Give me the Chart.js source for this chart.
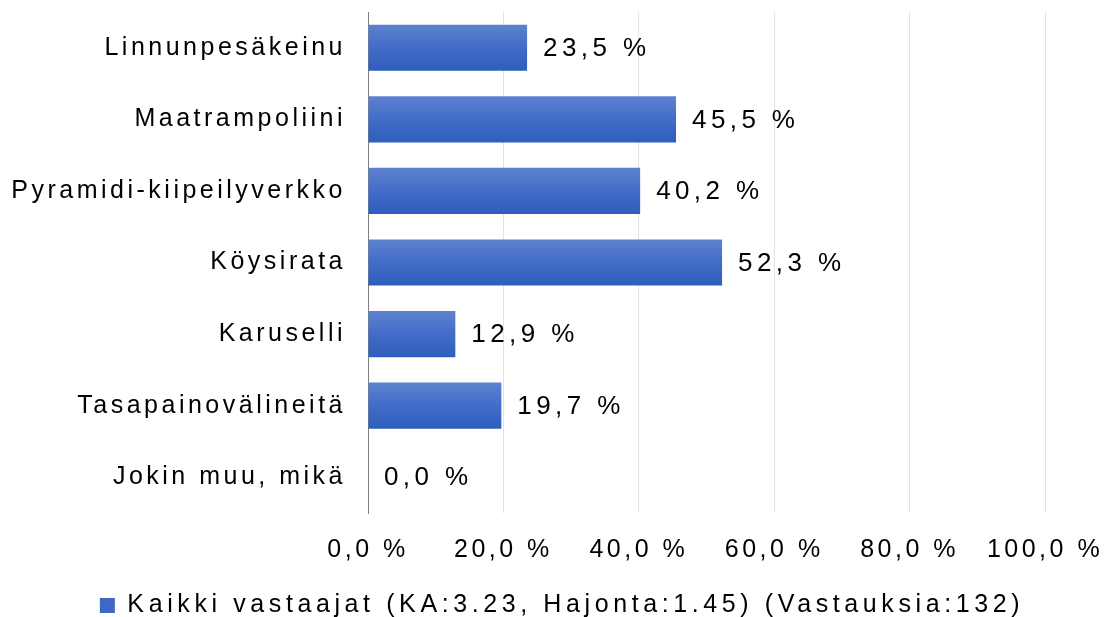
<!DOCTYPE html>
<html>
<head>
<meta charset="utf-8">
<script src="https://cdn.jsdelivr.net/npm/chart.js@4"></script>
<style>
  html, body { margin: 0; padding: 0; background: #fff; }
  #wrap { width: 1112px; height: 617px; }
</style>
</head>
<body>
<div id="wrap"><canvas id="chart"></canvas></div>
<script>
const categories = [
    'Linnunpesäkeinu',
    'Maatrampoliini',
    'Pyramidi-kiipeilyverkko',
    'Köysirata',
    'Karuselli',
    'Tasapainovälineitä',
    'Jokin muu, mikä'
];
const values = [23.5, 45.5, 40.2, 52.3, 12.9, 19.7, 0.0];
const seriesLabel = 'Kaikki vastaajat (KA:3.23, Hajonta:1.45) (Vastauksia:132)';
const xTicks = [0, 20, 40, 60, 80, 100];

const barThickness = 0.645;
const fontFamily = '"Liberation Sans", Arial, sans-serif';
const fontSize = 25;
const axisGap = '3.5px';
const valueGap = '4.4px';
const legendGap = '4.6px';

function fmt(v) {
    return v.toFixed(1).replace('.', ',') + ' %';
}

// run fn with a given canvas letter spacing
function withGap(ctx, gap, fn) {
    const old = ctx.letterSpacing;
    ctx.letterSpacing = gap;
    const r = fn();
    ctx.letterSpacing = old;
    return r;
}

// the original text is spaced out, axis labels a little, legend / values more
const spacing = {
    id: 'spacing',
    afterInit(chart) {
        const lg = chart.legend;
        if (lg) {
            const fit = lg.fit, draw = lg.draw;
            lg.fit = function () { return withGap(chart.ctx, legendGap, () => fit.apply(this, arguments)); };
            lg.draw = function () {
                const c = chart.ctx;
                c.save();
                c.translate(6, 11);
                withGap(c, legendGap, () => draw.apply(this, arguments));
                c.restore();
            };
        }
    },
    beforeUpdate(chart) { chart.ctx.letterSpacing = axisGap; },
    beforeLayout(chart) { chart.ctx.letterSpacing = axisGap; },
    beforeDraw(chart) { chart.ctx.letterSpacing = axisGap; }
};

const valueLabels = {
    id: 'valueLabels',
    afterDatasetsDraw(chart) {
        const ctx = chart.ctx;
        const meta = chart.getDatasetMeta(0);
        ctx.save();
        ctx.letterSpacing = valueGap;
        ctx.font = '26px ' + fontFamily;
        ctx.fillStyle = '#000';
        ctx.textAlign = 'left';
        ctx.textBaseline = 'middle';
        meta.data.forEach((bar, i) => {
            ctx.fillText(fmt(values[i]), bar.x + 16, bar.y + 1);
        });
        ctx.restore();
    }
};

function barFill(context) {
    const chart = context.chart;
    const area = chart.chartArea;
    if (!area || context.type !== 'data') {
        return 'rgb(60, 100, 200)';
    }
    const y = chart.scales.y.getPixelForValue(context.dataIndex);
    const h = (area.bottom - area.top) / categories.length * barThickness;
    const g = chart.ctx.createLinearGradient(0, y - h / 2, 0, y + h / 2);
    g.addColorStop(0, 'rgb(94, 130, 208)');
    g.addColorStop(0.5, 'rgb(66, 108, 200)');
    g.addColorStop(1, 'rgb(46, 94, 188)');
    return g;
}

document.addEventListener("DOMContentLoaded", () => {
    const ctx = document.getElementById('chart');

    new Chart(ctx, {
        type: 'bar',
        data: {
            labels: categories,
            datasets: [{
                label: seriesLabel,
                data: values,
                backgroundColor: barFill,
                borderWidth: 0,
                categoryPercentage: barThickness,
                barPercentage: 1
            }]
        },
        options: {
            indexAxis: 'y',
            responsive: true,
            maintainAspectRatio: false,
            animation: false,
            layout: {
                padding: { left: 0, right: 0, top: 12, bottom: 0 }
            },
            scales: {
                x: {
                    min: 0,
                    max: 100,
                    afterBuildTicks(scale) {
                        scale.ticks = xTicks.map(v => ({ value: v }));
                    },
                    afterFit(scale) {
                        scale.paddingRight = 67;
                        scale.height = 65;
                    },
                    border: { display: false },
                    grid: { color: '#dde4ee', lineWidth: 1, drawTicks: false },
                    ticks: {
                        padding: 22,
                        maxRotation: 0,
                        color: '#000',
                        font: { family: fontFamily, size: fontSize },
                        callback: v => fmt(v)
                    }
                },
                y: {
                    afterFit(scale) {
                        scale.width = 368;
                        scale.paddingTop = 0;
                        scale.paddingBottom = 0;
                    },
                    border: { display: true, color: '#808080', width: 1 },
                    grid: { display: false, drawTicks: false },
                    ticks: {
                        padding: 22,
                        color: '#000',
                        font: { family: fontFamily, size: fontSize }
                    }
                }
            },
            plugins: {
                legend: {
                    position: 'bottom',
                    labels: {
                        boxWidth: 15,
                        boxHeight: 15,
                        padding: 4,
                        color: '#000',
                        font: { family: fontFamily, size: fontSize },
                        generateLabels: () => [{
                            text: seriesLabel,
                            fillStyle: 'rgb(62, 104, 198)',
                            strokeStyle: 'rgb(62, 104, 198)',
                            lineWidth: 0,
                            hidden: false,
                            datasetIndex: 0
                        }]
                    }
                },
                tooltip: { enabled: false }
            }
        },
        plugins: [spacing, valueLabels]
    });
});
</script>
</body>
</html>
